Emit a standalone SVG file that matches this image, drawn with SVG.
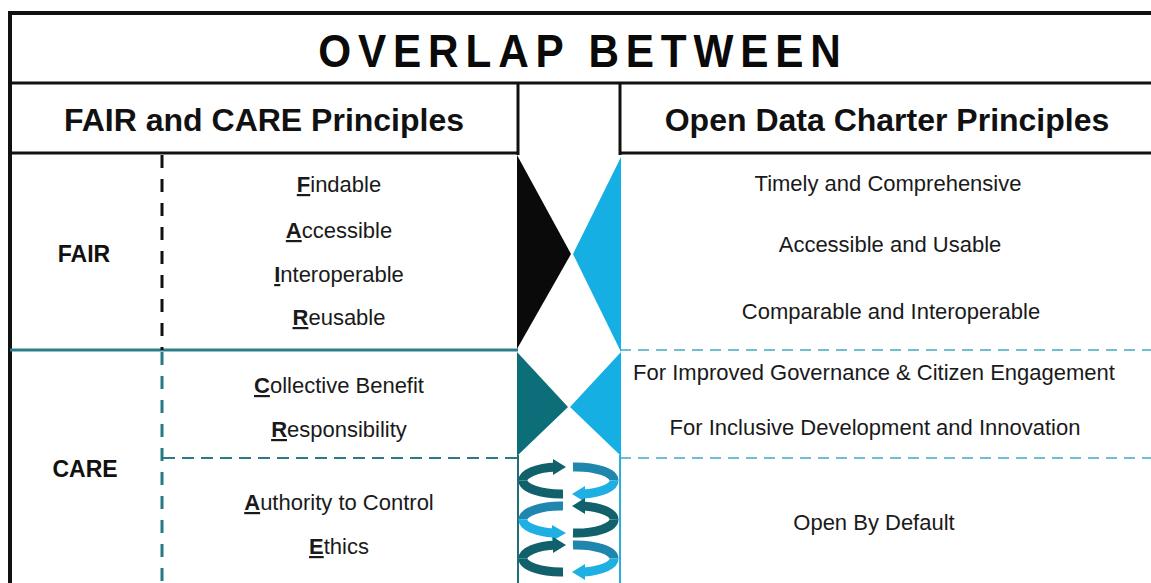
<svg xmlns="http://www.w3.org/2000/svg" width="1151" height="583" viewBox="0 0 1151 583">
<style>
text{font-family:"Liberation Sans",Arial,sans-serif;fill:#1a1a1a}
.title{font-weight:bold;font-size:47px;fill:#0a0a0a}
.hdr{font-weight:bold;font-size:32px;text-anchor:middle;fill:#111}
.grp{font-weight:bold;font-size:23px;text-anchor:middle;fill:#111}
.item{font-size:22px;text-anchor:middle}
.ini{font-weight:bold;text-decoration:underline}
.frame{stroke:#111;fill:none}
.teal{stroke:#2a7d8a;fill:none}
.dashL{stroke:#2b7b86;stroke-width:2;stroke-dasharray:12 7;fill:none}
.dashR{stroke:#6cc0cf;stroke-width:2;stroke-dasharray:11 7;fill:none}
.vdashK{stroke:#111;stroke-width:3;stroke-dasharray:13 11;fill:none}
.vdashT{stroke:#267a84;stroke-width:3;stroke-dasharray:13 11;fill:none}
.arc{fill:none;stroke-width:9;stroke-linecap:butt}
.dk{stroke:#10616c}.md{stroke:#1f87ad}.lt{stroke:#1fb0e3}
.dkf{fill:#10616c}.mdf{fill:#1f87ad}.ltf{fill:#1fb0e3}
</style>
<rect x="0" y="0" width="1151" height="583" fill="#ffffff"/>

<g id="connectors">
  <line class="frame" x1="8" y1="13" x2="1151" y2="13" stroke-width="4"/>
  <line class="frame" x1="10" y1="11" x2="10" y2="583" stroke-width="4"/>
  <line class="frame" x1="10" y1="83" x2="1151" y2="83" stroke-width="3"/>
  <line class="frame" x1="518" y1="83" x2="518" y2="155" stroke-width="3"/>
  <line class="frame" x1="620" y1="83" x2="620" y2="155" stroke-width="3"/>
  <line class="frame" x1="10" y1="153" x2="519" y2="153" stroke-width="3"/>
  <line class="frame" x1="619" y1="153" x2="1151" y2="153" stroke-width="3"/>
  <line class="teal" x1="10" y1="350" x2="518" y2="350" stroke-width="3"/>
  <line class="dashR" x1="620" y1="350" x2="1151" y2="350"/>
  <line class="dashL" x1="163" y1="458" x2="518" y2="458"/>
  <line class="dashR" x1="620" y1="458" x2="1151" y2="458"/>
  <line class="vdashK" x1="162" y1="155" x2="162" y2="350"/>
  <line class="vdashT" x1="162" y1="352" x2="162" y2="583"/>
  <line x1="518" y1="455" x2="518" y2="583" stroke="#1d6f78" stroke-width="2"/>
  <line x1="620" y1="455" x2="620" y2="583" stroke="#2aaedc" stroke-width="2"/>
</g>

<g id="title">
  <text class="title" transform="translate(583,67) scale(0.9,1)" text-anchor="middle" letter-spacing="7.6">OVERLAP BETWEEN</text>
</g>

<g id="header-left"><text class="hdr" x="264" y="131">FAIR and CARE Principles</text></g>
<g id="header-right"><text class="hdr" x="887" y="131">Open Data Charter Principles</text></g>

<g id="overlap-fair">
  <polygon points="517,155 571,254 517,349" fill="#0a0a0a"/>
  <polygon points="621,157 573,254 621,352" fill="#15afe3"/>
</g>
<g id="overlap-care">
  <polygon points="517,352 568,407 517,456" fill="#0b6e78"/>
  <polygon points="621,352 570,407 621,456" fill="#15afe3"/>
</g>

<g id="cycle-arrows">
  <path class="arc dk" d="M 556 467 A 38 13.5 0 0 0 523 480.5"/>
  <polygon class="dkf" points="553,459 566,467 553,475"/>
  <path class="arc dk" d="M 523 480.5 A 38 13.5 0 0 0 563 494"/>
  <path class="arc md" d="M 573 467 A 38 13.5 0 0 1 614 480.5"/>
  <path class="arc lt" d="M 614 480.5 A 38 13.5 0 0 1 583 494"/>
  <polygon class="ltf" points="585,486 572,494 585,502"/>
  <path class="arc md" d="M 563 506 A 38 13.5 0 0 0 523 519.5"/>
  <path class="arc lt" d="M 523 519.5 A 38 13.5 0 0 0 554 533"/>
  <polygon class="ltf" points="552,525 566,533 552,541"/>
  <path class="arc dk" d="M 583 506 A 38 13.5 0 0 1 614 519.5"/>
  <polygon class="dkf" points="585,498 572,506 585,514"/>
  <path class="arc dk" d="M 614 519.5 A 38 13.5 0 0 1 573 533"/>
  <path class="arc dk" d="M 556 545 A 38 13.5 0 0 0 523 558.5"/>
  <polygon class="dkf" points="553,537 566,545 553,553"/>
  <path class="arc dk" d="M 523 558.5 A 38 13.5 0 0 0 563 572"/>
  <path class="arc md" d="M 573 545 A 38 13.5 0 0 1 614 558.5"/>
  <path class="arc lt" d="M 614 558.5 A 38 13.5 0 0 1 583 572"/>
  <polygon class="ltf" points="585,564 572,572 585,580"/>
</g>

<g id="fair">
  <text class="grp" x="84" y="262">FAIR</text>
  <text class="item" x="339" y="192"><tspan class="ini">F</tspan>indable</text>
  <text class="item" x="339" y="238"><tspan class="ini">A</tspan>ccessible</text>
  <text class="item" x="339" y="282"><tspan class="ini">I</tspan>nteroperable</text>
  <text class="item" x="339" y="325"><tspan class="ini">R</tspan>eusable</text>
</g>

<g id="care">
  <text class="grp" x="85" y="477">CARE</text>
  <text class="item" x="339" y="393"><tspan class="ini">C</tspan>ollective Benefit</text>
  <text class="item" x="339" y="437"><tspan class="ini">R</tspan>esponsibility</text>
  <text class="item" x="339" y="510"><tspan class="ini">A</tspan>uthority to Control</text>
  <text class="item" x="339" y="554"><tspan class="ini">E</tspan>thics</text>
</g>

<g id="odc-fair">
  <text class="item" x="888" y="191">Timely and Comprehensive</text>
  <text class="item" x="890" y="252">Accessible and Usable</text>
  <text class="item" x="891" y="319">Comparable and Interoperable</text>
</g>

<g id="odc-care-1">
  <text class="item" x="874" y="380">For Improved Governance &amp; Citizen Engagement</text>
  <text class="item" x="875" y="435">For Inclusive Development and Innovation</text>
</g>

<g id="odc-care-2">
  <text class="item" x="874" y="530">Open By Default</text>
</g>
</svg>
